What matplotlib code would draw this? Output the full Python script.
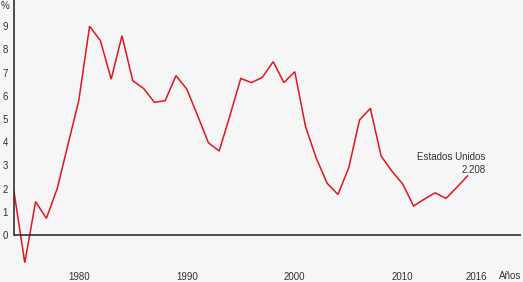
import numpy as np
import matplotlib
matplotlib.use("Agg")
import matplotlib.pyplot as plt
from matplotlib import font_manager
from matplotlib.transforms import ScaledTranslation

# Data
years = list(range(1974, 2017))
values = [1.87, -1.19, 1.44, 0.72, 2.0, 3.9, 5.8, 9.0, 8.38, 6.72,
          8.59, 6.65, 6.32, 5.72, 5.79, 6.87, 6.29, 5.15, 3.98, 3.62,
          5.15, 6.75, 6.57, 6.8, 7.47, 6.57, 7.04, 4.67, 3.3, 2.23,
          1.75, 2.9, 4.96, 5.46, 3.4, 2.75, 2.2, 1.25, 1.55, 1.82,
          1.58, 2.05, 2.55]
x_ticks = [1980, 1990, 2000, 2010, 2016]
y_ticks = list(range(0, 10))
series_name = "Estados Unidos"
last_label = "2.208"

# condensed look: use the narrow face if it is installed
installed = {f.name for f in font_manager.fontManager.ttflist}
if 'Liberation Sans Narrow' in installed:
    plt.rcParams['font.family'] = ['Liberation Sans Narrow', 'DejaVu Sans']
    fs = 7.5
else:
    plt.rcParams['font.family'] = ['Liberation Sans', 'DejaVu Sans']
    fs = 7

bg = '#f6f6f6'
txt = '#333333'
red = '#e2151f'

fig = plt.figure(figsize=(5.23, 2.82), dpi=100, facecolor=bg)
W, H = 523, 282
ax = fig.add_axes([14 / W, (H - 268) / H, 507 / W, 268 / H], facecolor=bg)

ax.plot(years, values, color=red, lw=1.1, solid_joinstyle='miter')
ax.axhline(0, color='#222222', lw=1.1)

ax.set_xlim(1974, 2020.95)
ax.set_ylim(-1.42, 10.13)

for s in ['top', 'right', 'bottom']:
    ax.spines[s].set_visible(False)
ax.spines['left'].set_color('#222222')
ax.spines['left'].set_linewidth(1.1)
ax.spines['left'].set_bounds(0, 10.13)

ax.set_yticks(y_ticks)
ax.set_xticks(x_ticks)
ax.tick_params(axis='both', length=0, labelsize=fs, colors=txt)
ax.tick_params(axis='y', pad=4.5)
ax.tick_params(axis='x', pad=3)

# 2016 label sits a little right of its year
lab = ax.get_xticklabels()[-1]
lab.set_transform(lab.get_transform() + ScaledTranslation(9 / 100, 0, fig.dpi_scale_trans))

fig.text(5 / W, 1 - 6 / H, '%', fontsize=fs, color=txt, ha='center', va='center')
fig.text(521 / W, 1 - 276 / H, 'Años', fontsize=fs, color=txt, ha='right', va='center')

ax.annotate(series_name, xy=(years[-1], values[-1]), xytext=(18, 19),
            textcoords='offset pixels', ha='right', va='center', fontsize=fs, color=txt)
ax.annotate(last_label, xy=(years[-1], values[-1]), xytext=(18, 6),
            textcoords='offset pixels', ha='right', va='center', fontsize=fs, color=txt)

fig.savefig('out.png', dpi=100, facecolor=bg)
